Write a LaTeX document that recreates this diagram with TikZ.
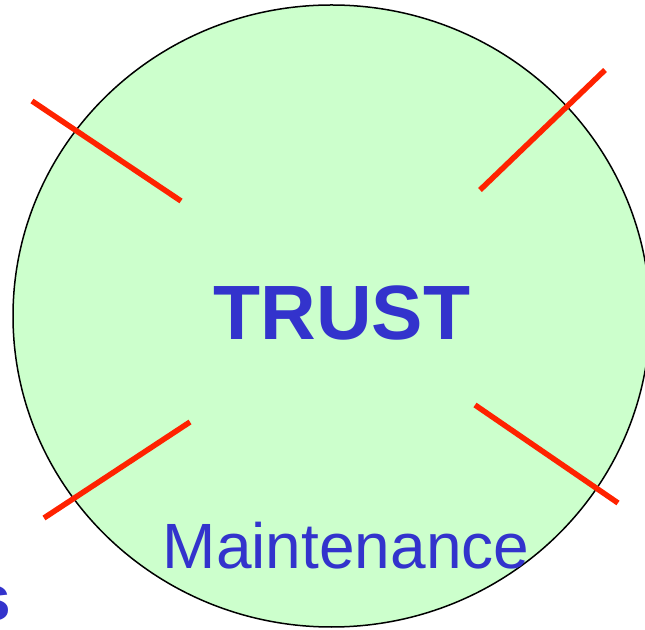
\documentclass[tikz,border=0pt]{standalone}
\usepackage{fontspec}
\setmainfont{Liberation Sans}
\definecolor{fillgreen}{HTML}{CCFFCC}
\definecolor{txtblue}{HTML}{3333CC}
\definecolor{linered}{HTML}{FF2200}
\begin{document}
\begin{tikzpicture}[x=1pt,y=1pt,
  redline/.style={draw=linered,line width=5.5pt},
  bigtext/.style={text=txtblue,inner sep=0pt}]
\useasboundingbox (0,0) rectangle (645,629);
\draw[fill=fillgreen,line width=1.5pt] (331.5,313) ellipse [x radius=318.5, y radius=311];
\node[bigtext,anchor=base] (trust) at (342,289) {\fontsize{77}{80}\selectfont\bfseries TRUST};
\node[bigtext,anchor=base] (maint) at (346,60) {\fontsize{64}{70}\selectfont Maintenance};
\node[bigtext,anchor=base east] (s) at (11,9) {\fontsize{64}{70}\selectfont\bfseries s};
\coordinate (a1) at (32,528); \coordinate (a2) at (181,428);
\coordinate (b1) at (605,559); \coordinate (b2) at (480,439);
\coordinate (c1) at (44,111); \coordinate (c2) at (190,207);
\coordinate (d1) at (475,224); \coordinate (d2) at (618,126);
\draw[redline] (a1) -- (a2);
\draw[redline] (b1) -- (b2);
\draw[redline] (c1) -- (c2);
\draw[redline] (d1) -- (d2);
\end{tikzpicture}
\end{document}
